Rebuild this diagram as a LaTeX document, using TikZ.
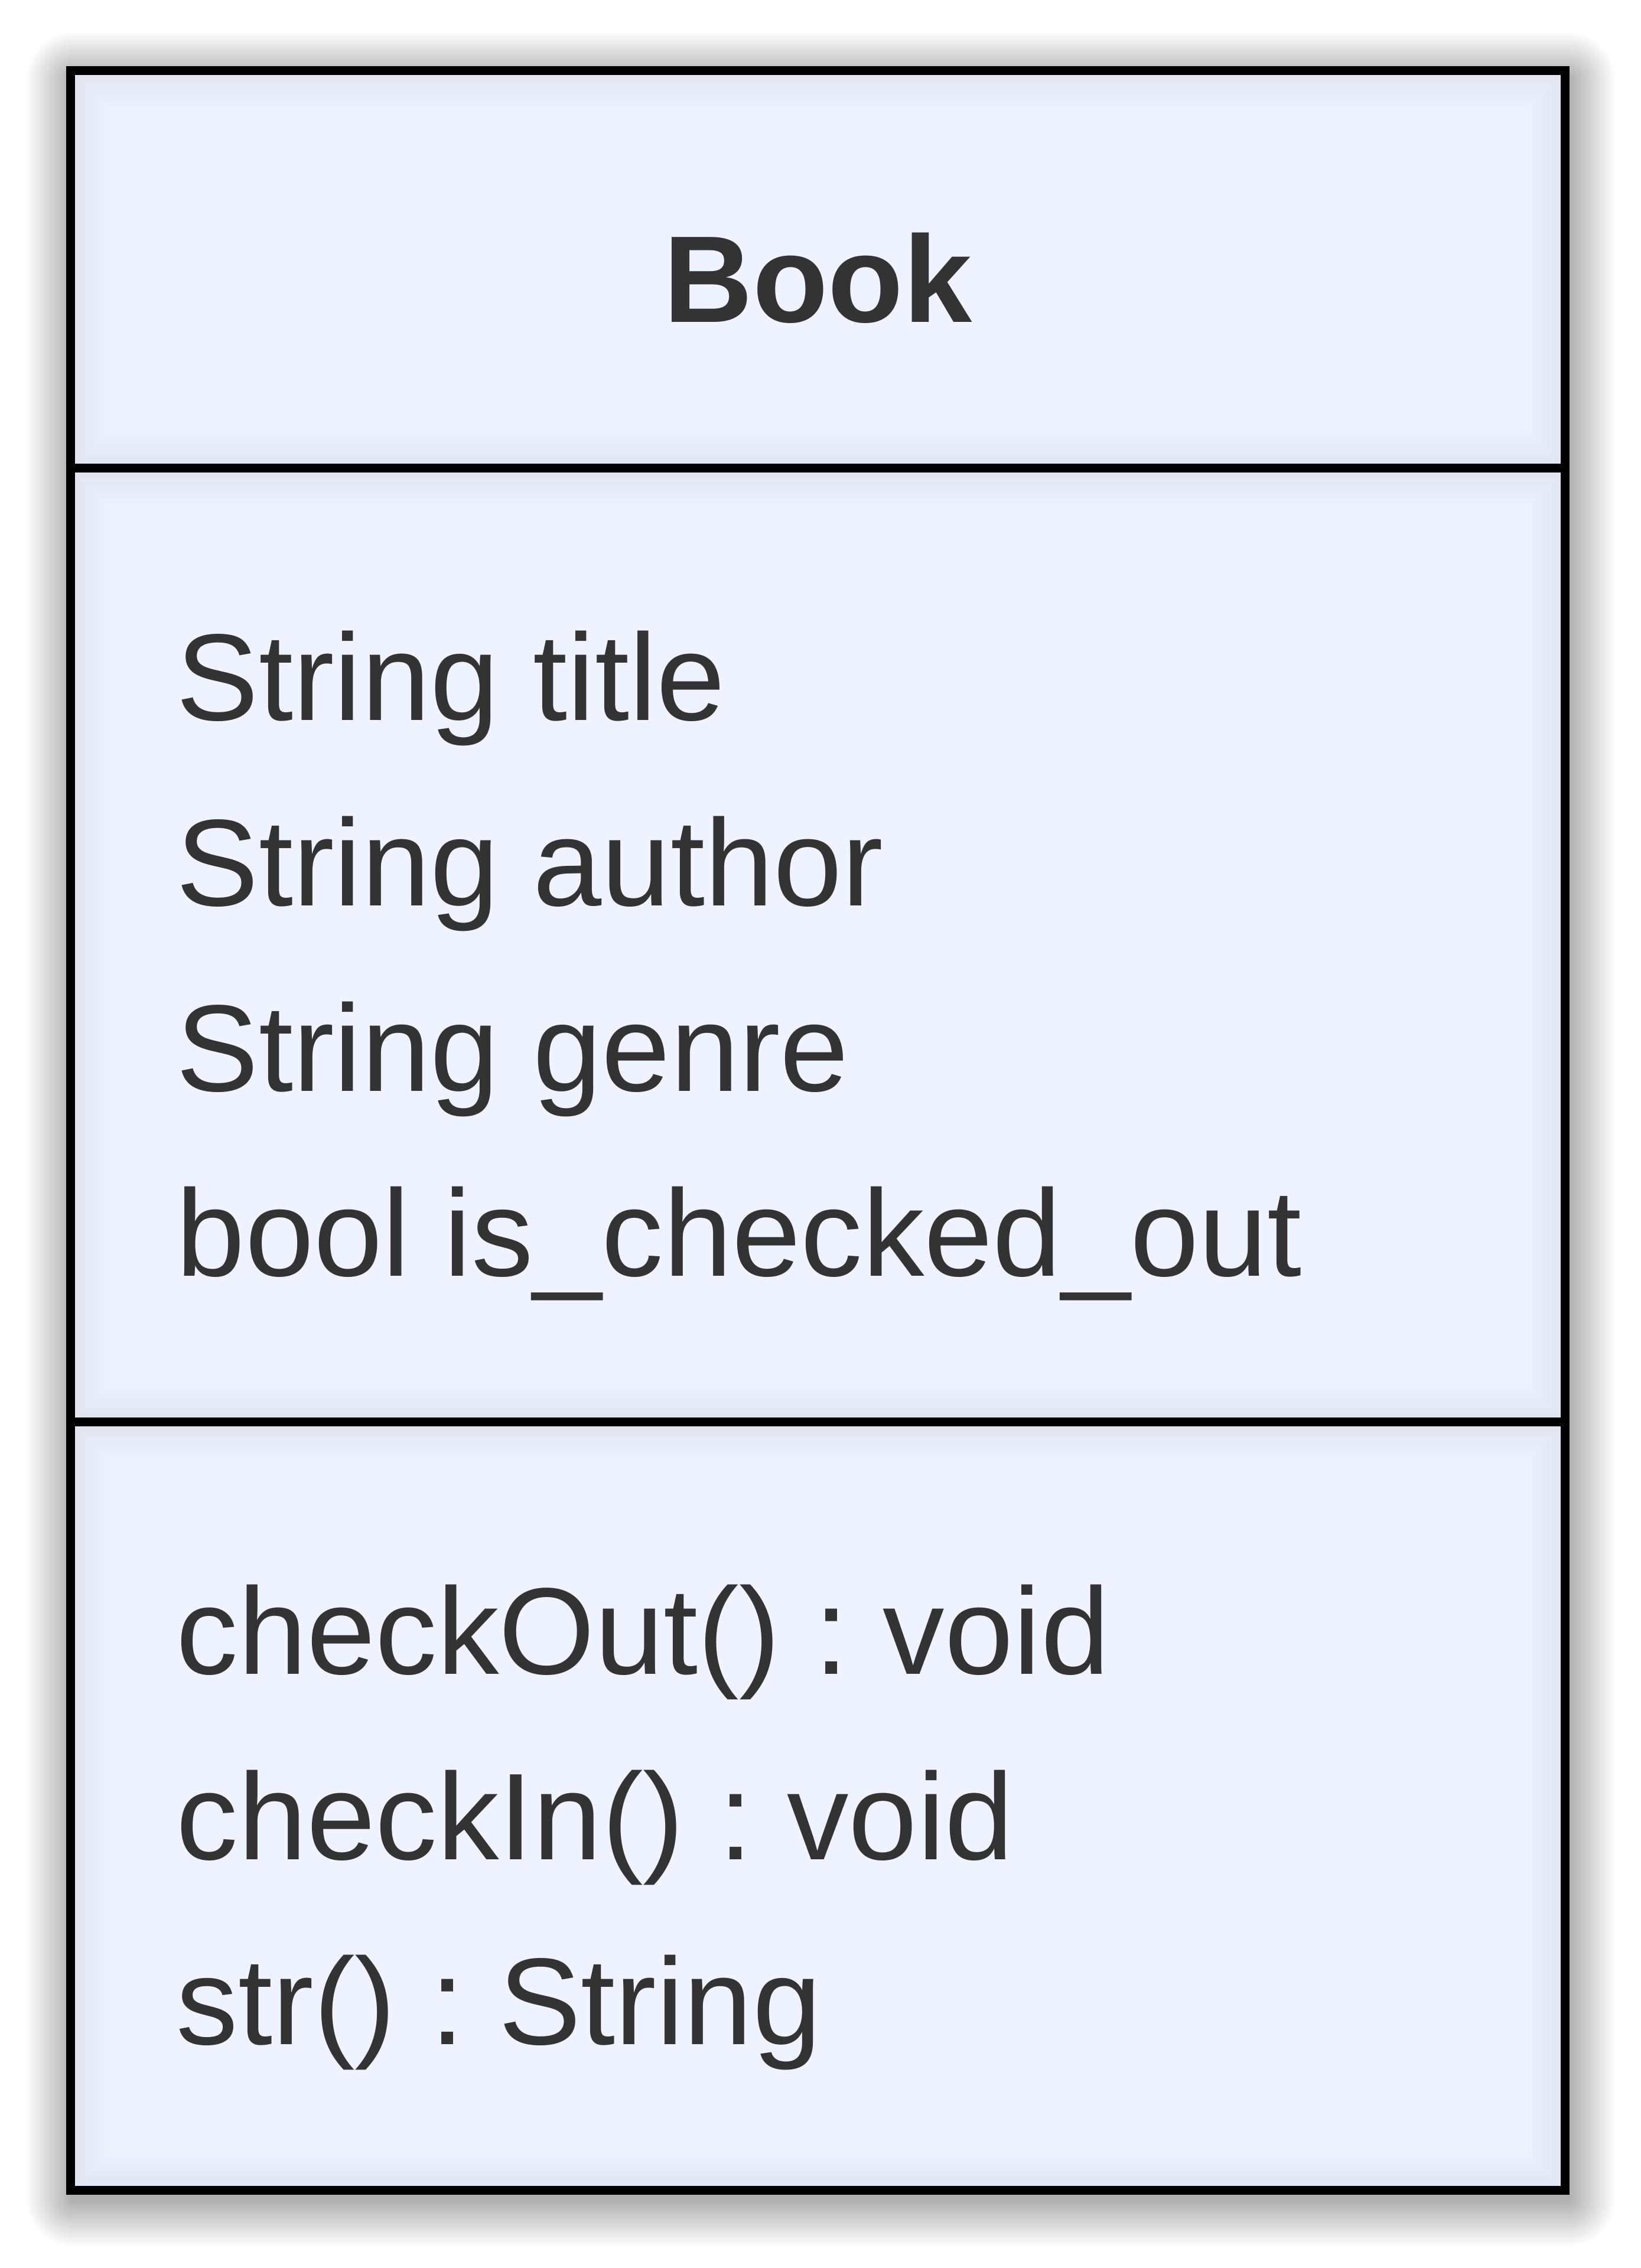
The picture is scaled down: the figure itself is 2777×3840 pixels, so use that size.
\documentclass[tikz,border=0pt]{standalone}
\usepackage{fontspec}
\setmainfont{Liberation Sans}
\frenchspacing
\definecolor{inner}{RGB}{239,243,255}
\definecolor{rim}{RGB}{223,228,241}
\definecolor{txt}{RGB}{51,51,51}
\tikzset{
  member/.style={anchor=base west,inner sep=0pt,text=txt,font=\fontsize{52.25pt}{60pt}\selectfont},
  title/.style={anchor=base,inner sep=0pt,text=txt,font=\fontsize{52.25pt}{60pt}\selectfont\bfseries},
  frame/.style={draw=black,line width=3.75pt}
}
\newcommand{\compartment}[4]{%
  \foreach \i in {0,...,8}{%
    \pgfmathsetmacro\p{\i*12.5}%
    \pgfmathsetmacro\d{\i*8}%
    \fill[color=inner!\p!rim] (#1+\d,#2+\d) rectangle (#3-\d,#4-\d);
  }%
}
\begin{document}
\begin{tikzpicture}[x=0.25pt,y=-0.25pt]
\useasboundingbox (0,0) rectangle (2777,3840);
\fill[white] (0,0) rectangle (2777,3840);
% drop shadow
\foreach \r in {2,4,...,80}{
  \fill[black,opacity=0.008,rounded corners=\r*0.25pt] (119.5+5-\r,119.5+15-\r) rectangle (2649.5+5+\r,3708.5+15+\r);
}
% compartments
\compartment{119.5}{119.5}{2649.5}{792.5}
\compartment{119.5}{792.5}{2649.5}{2407.7}
\compartment{119.5}{2407.7}{2649.5}{3708.5}
% frame
\draw[frame] (119.5,119.5) rectangle (2649.5,3708.5);
\draw[frame] (119.5,792.5) -- (2649.5,792.5);
\draw[frame] (119.5,2407.7) -- (2649.5,2407.7);
% texts
\node[title] (name) at (1384.5,546) {Book};
\node[member] (a1) at (298,1219) {String title};
\node[member] (a2) at (298,1533) {String author};
\node[member] (a3) at (298,1847) {String genre};
\node[member] (a4) at (298,2160) {bool is\_checked\_out};
\node[member] (m1) at (298,2834) {checkOut() : void};
\node[member] (m2) at (298,3148) {checkIn() : void};
\node[member] (m3) at (298,3461) {str() : String};
\end{tikzpicture}
\end{document}
